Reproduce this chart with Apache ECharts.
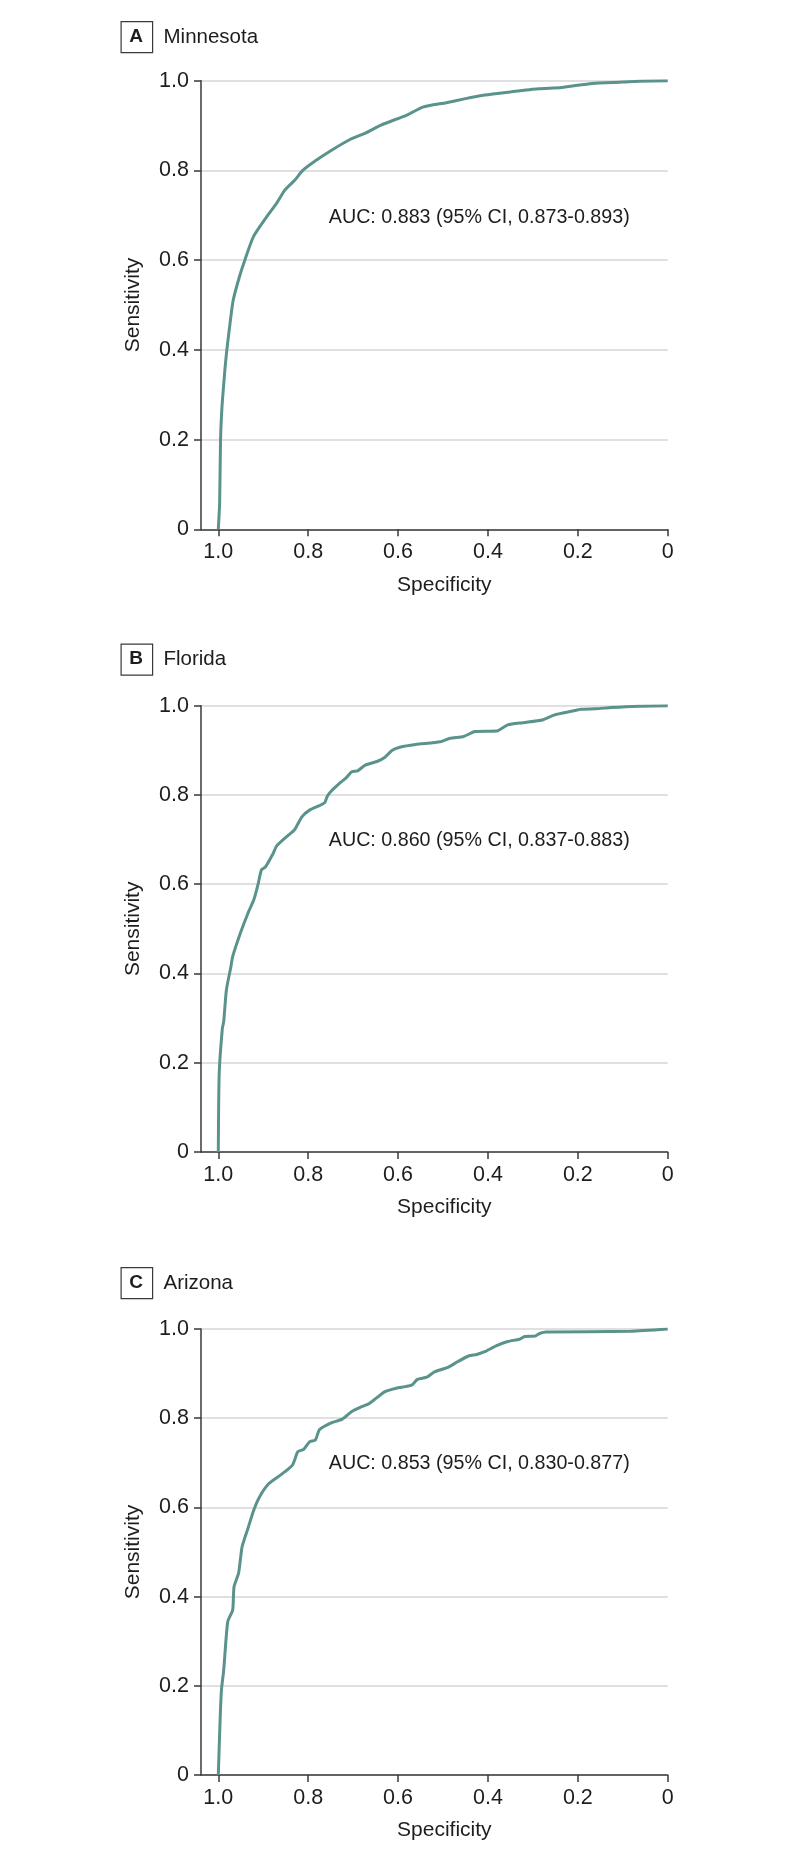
<!DOCTYPE html>
<html>
<head>
<meta charset="utf-8">
<script src="https://cdn.jsdelivr.net/npm/echarts@6/dist/echarts.min.js"></script>
<style>
html,body{margin:0;padding:0;background:#fff;}
#chart{width:794px;height:1860px;}
</style>
</head>
<body>
<div id="chart"></div>
<script>
// ---- Data ----
const panelLetters = ['A', 'B', 'C'];
const panelTitles = ['Minnesota', 'Florida', 'Arizona'];
const aucLabels = [
  'AUC: 0.883 (95% CI, 0.873-0.893)',
  'AUC: 0.860 (95% CI, 0.837-0.883)',
  'AUC: 0.853 (95% CI, 0.830-0.877)'
];
const xTickValues = [0, 0.2, 0.4, 0.6, 0.8, 1.0];
const yTickValues = [0, 0.2, 0.4, 0.6, 0.8, 1.0];
const xAxisName = 'Specificity';
const yAxisName = 'Sensitivity';

// Minnesota
const specA = [1.0, 0.997, 0.995, 0.992, 0.989, 0.985, 0.981, 0.975, 0.967, 0.953, 0.941, 0.922, 0.892, 0.870, 0.852, 0.830, 0.812, 0.783, 0.748, 0.707, 0.673, 0.638, 0.579, 0.545, 0.493, 0.450, 0.407, 0.350, 0.288, 0.236, 0.168, 0.100, 0.065, 0.0];
const sensA = [0.0, 0.06, 0.20, 0.27, 0.31, 0.36, 0.40, 0.45, 0.51, 0.563, 0.60, 0.652, 0.697, 0.727, 0.756, 0.778, 0.800, 0.822, 0.845, 0.869, 0.883, 0.901, 0.924, 0.941, 0.951, 0.960, 0.968, 0.975, 0.982, 0.985, 0.994, 0.997, 0.999, 1.0];

// Florida
const specB = [1.0, 0.998, 0.991, 0.988, 0.982, 0.972, 0.968, 0.951, 0.934, 0.921, 0.912, 0.904, 0.895, 0.878, 0.870, 0.844, 0.831, 0.814, 0.797, 0.775, 0.763, 0.758, 0.750, 0.728, 0.715, 0.703, 0.690, 0.673, 0.647, 0.630, 0.613, 0.596, 0.561, 0.506, 0.484, 0.454, 0.429, 0.378, 0.356, 0.322, 0.279, 0.253, 0.211, 0.193, 0.160, 0.125, 0.065, 0.0];
const sensB = [0.0, 0.176, 0.277, 0.292, 0.363, 0.415, 0.438, 0.490, 0.535, 0.565, 0.598, 0.632, 0.639, 0.669, 0.686, 0.710, 0.721, 0.751, 0.766, 0.776, 0.783, 0.796, 0.807, 0.828, 0.839, 0.852, 0.854, 0.867, 0.875, 0.884, 0.900, 0.907, 0.913, 0.919, 0.927, 0.931, 0.942, 0.944, 0.957, 0.962, 0.968, 0.979, 0.988, 0.992, 0.993, 0.996, 0.999, 1.0];

// Arizona
const specC = [1.0, 0.996, 0.993, 0.988, 0.979, 0.968, 0.965, 0.955, 0.951, 0.947, 0.934, 0.921, 0.908, 0.887, 0.861, 0.835, 0.823, 0.810, 0.797, 0.784, 0.775, 0.750, 0.724, 0.703, 0.681, 0.664, 0.630, 0.604, 0.570, 0.557, 0.536, 0.519, 0.489, 0.467, 0.442, 0.425, 0.407, 0.382, 0.356, 0.330, 0.318, 0.296, 0.285, 0.270, 0.082, 0.0];
const sensC = [0.0, 0.123, 0.191, 0.235, 0.344, 0.370, 0.422, 0.452, 0.482, 0.512, 0.553, 0.594, 0.624, 0.654, 0.673, 0.695, 0.725, 0.730, 0.747, 0.751, 0.774, 0.789, 0.798, 0.815, 0.826, 0.833, 0.859, 0.867, 0.874, 0.887, 0.892, 0.904, 0.914, 0.927, 0.940, 0.943, 0.949, 0.962, 0.972, 0.977, 0.983, 0.984, 0.990, 0.993, 0.995, 1.0];

const specs = [specA, specB, specC];
const senses = [sensA, sensB, sensC];

// ---- Layout / style ----
const FONT = "'Liberation Sans', Arial, sans-serif";
const TEXT = '#1f1c1d';
const AXIS = '#3a3a3a';
const LINE = '#5a928c';
const GRIDC = '#d6d6d6';
const gridTops = [80.7, 705.7, 1329];
const gridHeights = [448.6, 446.3, 446];
const boxTops = [21, 643.5, 1267];
const aucCenters = [217.3, 841, 1464];
const GRID_LEFT = 201, GRID_WIDTH = 466.7;
const X_MAX = 1.0385;

const fmt = v => (Math.abs(v) < 1e-9 ? '0' : v.toFixed(1));

const grids = [], xAxes = [], yAxes = [], series = [], graphics = [];
for (let i = 0; i < 3; i++) {
  grids.push({left: GRID_LEFT, top: gridTops[i], width: GRID_WIDTH, height: gridHeights[i], containLabel: false});
  xAxes.push({
    type: 'value', gridIndex: i, inverse: true, min: 0, max: X_MAX,
    interval: 0.2,
    name: xAxisName, nameLocation: 'middle', nameGap: 45,
    nameTextStyle: {fontFamily: FONT, fontSize: 21, color: TEXT, padding: [0, 0, 0, 20]},
    axisLine: {show: true, onZero: false, lineStyle: {color: AXIS, width: 1.5}},
    axisTick: {show: true, length: 7, inside: false, customValues: xTickValues, lineStyle: {color: AXIS, width: 1.5}},
    axisLabel: {show: true, margin: 12, customValues: xTickValues, formatter: fmt, fontFamily: FONT, fontSize: 21.5, color: TEXT},
    splitLine: {show: false}
  });
  yAxes.push({
    type: 'value', gridIndex: i, min: 0, max: 1, interval: 0.2,
    name: yAxisName, nameLocation: 'middle', nameGap: 57,
    nameTextStyle: {fontFamily: FONT, fontSize: 21, color: TEXT},
    axisLine: {show: true, onZero: false, lineStyle: {color: AXIS, width: 1.5}},
    axisTick: {show: true, length: 7, inside: false, lineStyle: {color: AXIS, width: 1.5}},
    axisLabel: {show: true, margin: 12, formatter: fmt, fontFamily: FONT, fontSize: 21.5, color: TEXT},
    splitLine: {show: true, lineStyle: {color: GRIDC, width: 1.5}}
  });
  series.push({
    type: 'line', xAxisIndex: i, yAxisIndex: i,
    data: specs[i].map((s, k) => [s, senses[i][k]]),
    showSymbol: false, symbol: 'none', smooth: 0.2,
    lineStyle: {color: LINE, width: 3}, z: 5
  });
  graphics.push({
    type: 'rect', left: 120.5, top: boxTops[i],
    shape: {width: 31.5, height: 31},
    style: {fill: '#fff', stroke: AXIS, lineWidth: 1.2}
  });
  graphics.push({
    type: 'text', x: 136.2, y: boxTops[i] + 15.5,
    style: {text: panelLetters[i], font: "bold 19px " + FONT, fill: TEXT, textAlign: 'center', textVerticalAlign: 'middle'}
  });
  graphics.push({
    type: 'text', x: 163.5, y: boxTops[i] + 16,
    style: {text: panelTitles[i], font: "20.5px " + FONT, fill: TEXT, textAlign: 'left', textVerticalAlign: 'middle'}
  });
  graphics.push({
    type: 'text', x: 328.8, y: aucCenters[i],
    style: {text: aucLabels[i], font: "19.7px " + FONT, fill: TEXT, textAlign: 'left', textVerticalAlign: 'middle'}
  });
}

const chart = echarts.init(document.getElementById('chart'), null, {renderer: 'canvas', width: 794, height: 1860});
chart.setOption({
  animation: false,
  backgroundColor: '#fff',
  grid: grids,
  xAxis: xAxes,
  yAxis: yAxes,
  series: series,
  graphic: graphics
});
</script>
</body>
</html>
